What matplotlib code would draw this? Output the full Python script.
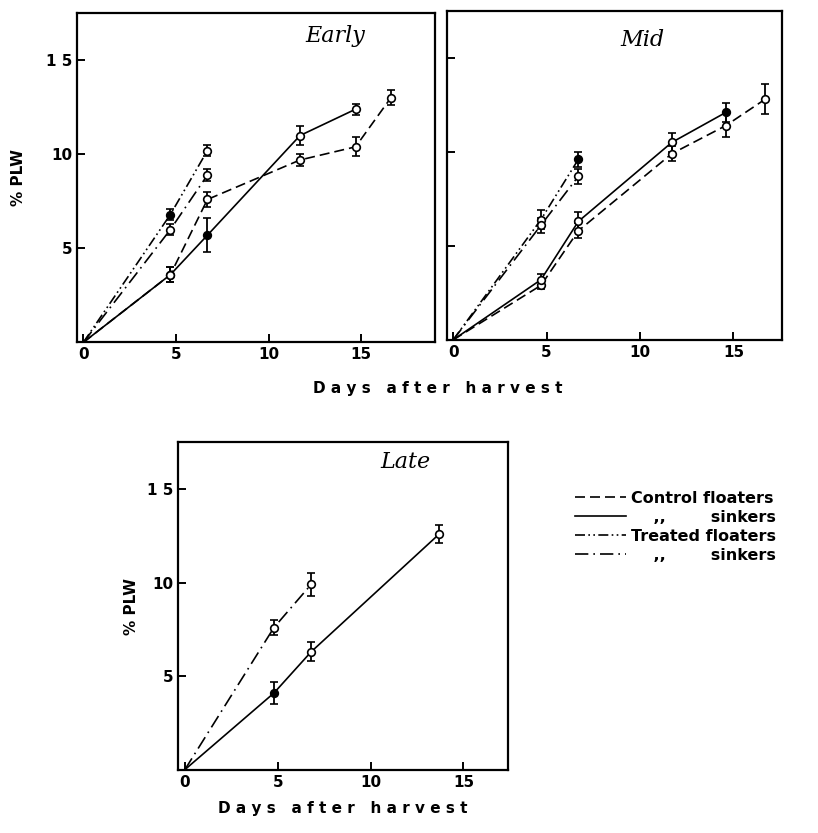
import matplotlib
matplotlib.use("Agg")
import matplotlib.pyplot as plt
from matplotlib.lines import Line2D

# days after harvest / % PLW for each lot
# cf = control floaters, cs = control sinkers, tf = treated floaters, ts = treated sinkers
early_cf_days = [0, 4.7, 6.7, 11.7, 14.7, 16.6]
early_cf = [0, 3.6, 7.6, 9.7, 10.4, 13.0]
early_cf_err = [0, 0.4, 0.4, 0.3, 0.5, 0.4]
early_cs_days = [0, 4.7, 6.7, 11.7, 14.7]
early_cs = [0, 3.6, 5.7, 11.0, 12.4]
early_cs_err = [0, 0.4, 0.9, 0.5, 0.3]
early_tf_days = [0, 4.7, 6.7]
early_tf = [0, 6.8, 10.2]
early_tf_err = [0, 0.3, 0.3]
early_ts_days = [0, 4.7, 6.7]
early_ts = [0, 6.0, 8.9]
early_ts_err = [0, 0.3, 0.3]

mid_cf_days = [0, 4.7, 6.7, 11.7, 14.6, 16.7]
mid_cf = [0, 2.9, 5.8, 9.9, 11.4, 12.8]
mid_cf_err = [0, 0.2, 0.4, 0.4, 0.6, 0.8]
mid_cs_days = [0, 4.7, 6.7, 11.7, 14.6]
mid_cs = [0, 3.2, 6.3, 10.5, 12.1]
mid_cs_err = [0, 0.3, 0.5, 0.5, 0.5]
mid_tf_days = [0, 4.7, 6.7]
mid_tf = [0, 6.4, 9.6]
mid_tf_err = [0, 0.5, 0.4]
mid_ts_days = [0, 4.7, 6.7]
mid_ts = [0, 6.1, 8.7]
mid_ts_err = [0, 0.4, 0.4]

late_cs_days = [0, 4.8, 6.8, 13.7]
late_cs = [0, 4.1, 6.3, 12.6]
late_cs_err = [0, 0.6, 0.5, 0.5]
late_ts_days = [0, 4.8, 6.8]
late_ts = [0, 7.6, 9.9]
late_ts_err = [0, 0.4, 0.6]

# which points are drawn as solid dots
early_cs_filled = [False, False, True, False, False]
early_tf_filled = [False, True, False]
mid_cs_filled = [False, False, False, False, True]
mid_tf_filled = [False, False, True]
late_cs_filled = [False, True, False, False]

styles = {
    "cf": (0, (6, 3)),
    "cs": "-",
    "tf": (0, (6, 2, 1, 2, 1, 2)),
    "ts": (0, (8, 3, 1, 3)),
}

tickfont = dict(family="DejaVu Sans", weight="bold", size=11)
labelfont = dict(family="DejaVu Sans", weight="bold", size=11)


def series(ax, days, vals, err, key, filled=None):
    ax.plot(days, vals, color="black", lw=1.2, linestyle=styles[key])
    if filled is None:
        filled = [False] * len(days)
    for d, v, e, f in zip(days[1:], vals[1:], err[1:], filled[1:]):
        ax.errorbar(d, v, yerr=e, fmt="o", ms=5.5, mec="black",
                    mfc="black" if f else "white", mew=1.2,
                    ecolor="black", elinewidth=1.3, capsize=3, capthick=1.3)


def frame(ax, xmax, labels=True):
    ax.set_xlim(-0.35, xmax)
    ax.set_ylim(0, 17.5)
    ax.set_xticks([0, 5, 10, 15])
    ax.set_yticks([5, 10, 15])
    ax.tick_params(direction="in", length=6, width=1.4)
    for s in ax.spines.values():
        s.set_linewidth(1.6)
    ax.set_xticklabels(["0", "5", "10", "15"], fontdict=tickfont)
    if labels:
        ax.set_yticklabels(["5", "10", "1 5"], fontdict=tickfont)
    else:
        ax.set_yticklabels([])


fig = plt.figure(figsize=(8.18, 8.33), dpi=100)

# Early
ax1 = fig.add_axes([0.094, 0.589, 0.438, 0.395])
series(ax1, early_cf_days, early_cf, early_cf_err, "cf")
series(ax1, early_cs_days, early_cs, early_cs_err, "cs", early_cs_filled)
series(ax1, early_tf_days, early_tf, early_tf_err, "tf", early_tf_filled)
series(ax1, early_ts_days, early_ts, early_ts_err, "ts")
frame(ax1, 19.0)
ax1.text(0.72, 0.93, "Early", transform=ax1.transAxes, ha="center", va="center",
         family="DejaVu Serif", style="italic", fontsize=16)
ax1.set_ylabel("% PLW", fontdict=labelfont, labelpad=14)

# Mid
ax2 = fig.add_axes([0.546, 0.592, 0.41, 0.395])
series(ax2, mid_cf_days, mid_cf, mid_cf_err, "cf")
series(ax2, mid_cs_days, mid_cs, mid_cs_err, "cs", mid_cs_filled)
series(ax2, mid_tf_days, mid_tf, mid_tf_err, "tf", mid_tf_filled)
series(ax2, mid_ts_days, mid_ts, mid_ts_err, "ts")
frame(ax2, 17.6, labels=False)
ax2.text(0.585, 0.91, "Mid", transform=ax2.transAxes, ha="center", va="center",
         family="DejaVu Serif", style="italic", fontsize=16)

fig.text(0.535, 0.534, "D a y s   a f t e r   h a r v e s t", ha="center", va="center",
         **labelfont)

# Late
ax3 = fig.add_axes([0.218, 0.076, 0.403, 0.393])
series(ax3, late_cs_days, late_cs, late_cs_err, "cs", late_cs_filled)
series(ax3, late_ts_days, late_ts, late_ts_err, "ts")
frame(ax3, 17.4)
ax3.text(0.69, 0.94, "Late", transform=ax3.transAxes, ha="center", va="center",
         family="DejaVu Serif", style="italic", fontsize=16)
ax3.set_ylabel("% PLW", fontdict=labelfont, labelpad=6)
ax3.set_xlabel("D a y s   a f t e r   h a r v e s t", fontdict=labelfont, labelpad=8)

# key
handles = [Line2D([], [], color="black", lw=1.2, linestyle=styles[k])
           for k in ["cf", "cs", "tf", "ts"]]
names = ["Control floaters", "    ,,        sinkers", "Treated floaters", "    ,,        sinkers"]
fig.legend(handles, names, loc="upper left", bbox_to_anchor=(0.685, 0.428),
           frameon=False, handlelength=3.2, handletextpad=0.3, labelspacing=0.25,
           prop=dict(family="DejaVu Sans", weight="bold", size=11.5))

fig.savefig("out.png", dpi=100)
